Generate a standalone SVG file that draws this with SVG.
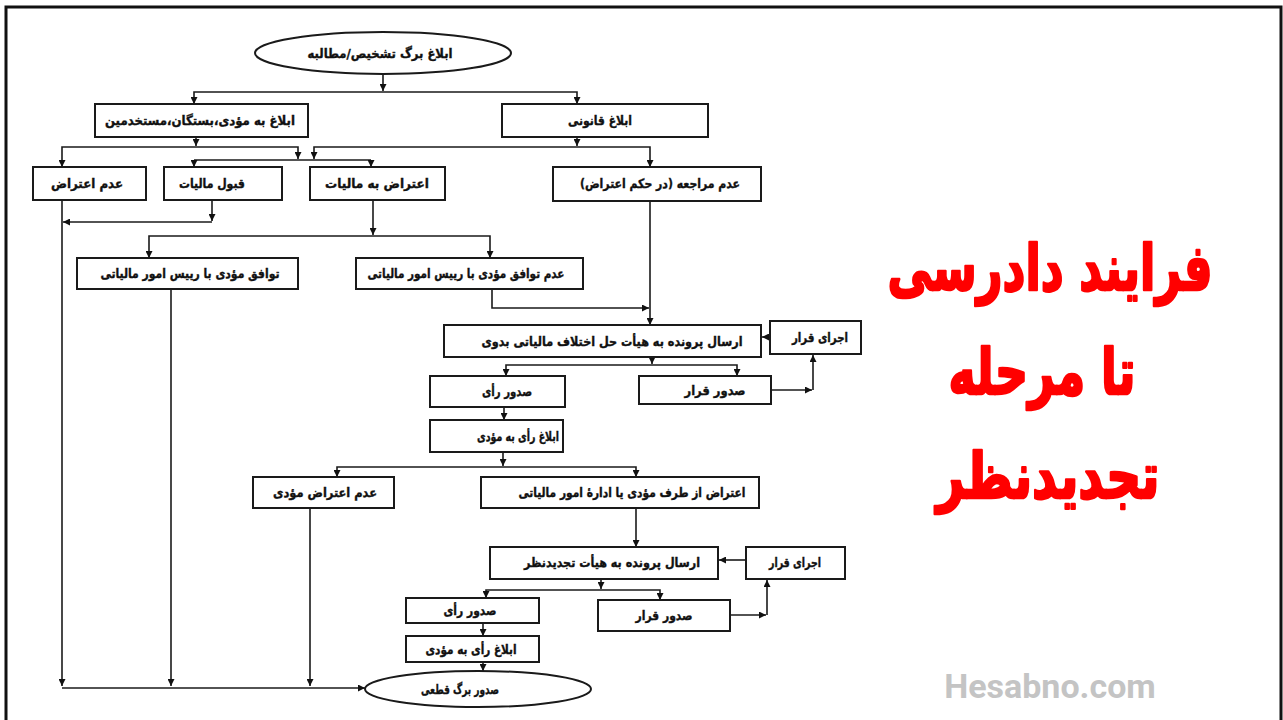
<svg xmlns="http://www.w3.org/2000/svg" width="1283" height="720" viewBox="0 0 1283 720">
<defs>
<marker id="ah" viewBox="0 0 8 8" refX="8" refY="4" markerWidth="7" markerHeight="7" markerUnits="userSpaceOnUse" orient="auto">
<path d="M0,0 L8,4 L0,8 z" fill="#111"/>
</marker>
<style>
.box{fill:#fff;stroke:#1a1a1a;stroke-width:2}
.t{font-family:"DejaVu Sans",sans-serif;font-size:13px;font-weight:bold;fill:#111;stroke:#111;stroke-width:0.4;text-anchor:middle}
.c{fill:none;stroke:#1a1a1a;stroke-width:1.6}
.ca{fill:none;stroke:#1a1a1a;stroke-width:1.6;marker-end:url(#ah)}
.title{font-family:"DejaVu Sans",sans-serif;font-size:54px;font-weight:bold;fill:#ff0000;stroke:#ff0000;stroke-width:2.2;stroke-linejoin:round;text-anchor:middle}
.wm{font-family:Roboto,"Liberation Sans",sans-serif;font-size:34px;font-weight:bold;fill:#c4c4c4;text-anchor:middle}
</style>
</defs>
<rect width="1283" height="720" fill="#fff"/>
<path d="M6,720 V7 H1281 V720" fill="none" stroke="#111" stroke-width="3"/>

<g id="connectors">
<path class="ca" d="M383,74 V91"/>
<path class="ca" d="M383,92 H194 V104"/>
<path class="ca" d="M383,92 H577 V104"/>
<path class="ca" d="M196,137 V146"/>
<path class="ca" d="M196,147 H62 V167"/>
<path class="ca" d="M196,147 H298 V159"/>
<path class="ca" d="M577,137 V146"/>
<path class="ca" d="M577,147 H314 V159"/>
<path class="ca" d="M577,147 H650 V167"/>
<path class="c" d="M194,160 H371"/>
<path class="ca" d="M194,160 V167"/>
<path class="ca" d="M371,160 V167"/>
<path class="ca" d="M62,200 V686"/>
<path class="ca" d="M212,200 V221"/>
<path class="ca" d="M212,222 H63"/>
<path class="ca" d="M373,200 V235"/>
<path class="ca" d="M373,236 H149 V258"/>
<path class="ca" d="M373,236 H490 V258"/>
<path class="ca" d="M171,289 V686"/>
<path class="ca" d="M492,289 V308 H649"/>
<path class="ca" d="M650,201 V325"/>
<path class="ca" d="M770,337 H762"/>
<path class="ca" d="M652,357 V364"/>
<path class="ca" d="M652,365 H506 V376"/>
<path class="ca" d="M652,365 H737 V376"/>
<path class="ca" d="M771,390 H812"/>
<path class="ca" d="M813,390 V355"/>
<path class="ca" d="M504,407 V420"/>
<path class="ca" d="M503,452 V466"/>
<path class="ca" d="M503,467 H337 V477"/>
<path class="ca" d="M503,467 H636 V477"/>
<path class="ca" d="M310,508 V686"/>
<path class="ca" d="M636,508 V547"/>
<path class="ca" d="M746,560 H719"/>
<path class="ca" d="M601,579 V589"/>
<path class="ca" d="M601,590 H486 V598"/>
<path class="ca" d="M601,590 H660 V600"/>
<path class="ca" d="M730,615 H766"/>
<path class="ca" d="M767,615 V580"/>
<path class="ca" d="M483,623 V636"/>
<path class="ca" d="M483,662 V671"/>
<path class="ca" d="M62,688 H365"/>
</g>

<g id="n-start"><ellipse class="box" cx="383" cy="53" rx="128" ry="21"/><text class="t" x="380" y="58" textLength="145" lengthAdjust="spacingAndGlyphs">ابلاغ برگ تشخیص/مطالبه</text></g>
<g id="n-notify-person"><rect class="box" x="95" y="104" width="213" height="33"/><text class="t" x="200" y="125" textLength="190" lengthAdjust="spacingAndGlyphs">ابلاغ به مؤدی،بستگان،مستخدمین</text></g>
<g id="n-notify-legal"><rect class="box" x="502" y="104" width="206" height="33"/><text class="t" x="600" y="125" textLength="64" lengthAdjust="spacingAndGlyphs">ابلاغ قانونی</text></g>
<g id="n-no-objection"><rect class="box" x="33" y="167" width="113" height="33"/><text class="t" x="87" y="188" textLength="72" lengthAdjust="spacingAndGlyphs">عدم اعتراض</text></g>
<g id="n-accept"><rect class="box" x="164" y="167" width="118" height="33"/><text class="t" x="212" y="188" textLength="66" lengthAdjust="spacingAndGlyphs">قبول مالیات</text></g>
<g id="n-objection"><rect class="box" x="310" y="167" width="135" height="33"/><text class="t" x="377" y="188" textLength="104" lengthAdjust="spacingAndGlyphs">اعتراض به مالیات</text></g>
<g id="n-no-visit"><rect class="box" x="553" y="167" width="208" height="34"/><text class="t" x="660" y="188" textLength="160" lengthAdjust="spacingAndGlyphs">عدم مراجعه (در حکم اعتراض)</text></g>
<g id="n-agree"><rect class="box" x="77" y="258" width="221" height="31"/><text class="t" x="190" y="278" textLength="179" lengthAdjust="spacingAndGlyphs">توافق مؤدی با رییس امور مالیاتی</text></g>
<g id="n-disagree"><rect class="box" x="356" y="258" width="227" height="31"/><text class="t" x="466" y="278" textLength="197" lengthAdjust="spacingAndGlyphs">عدم توافق مؤدی با رییس امور مالیاتی</text></g>
<g id="n-send-first"><rect class="box" x="444" y="325" width="317" height="32"/><text class="t" x="612" y="346" textLength="261" lengthAdjust="spacingAndGlyphs">ارسال پرونده به هیأت حل اختلاف مالیاتی بدوی</text></g>
<g id="n-exec1"><rect class="box" x="770" y="321" width="91" height="33"/><text class="t" x="820" y="342" textLength="56" lengthAdjust="spacingAndGlyphs">اجرای قرار</text></g>
<g id="n-verdict1"><rect class="box" x="430" y="376" width="135" height="31"/><text class="t" x="507" y="396" textLength="50" lengthAdjust="spacingAndGlyphs">صدور رأی</text></g>
<g id="n-order1"><rect class="box" x="639" y="376" width="132" height="28"/><text class="t" x="715" y="395" textLength="61" lengthAdjust="spacingAndGlyphs">صدور قرار</text></g>
<g id="n-notify-verdict1"><rect class="box" x="430" y="420" width="133" height="32"/><text class="t" x="518" y="441" textLength="82" lengthAdjust="spacingAndGlyphs">ابلاغ رأی به مؤدی</text></g>
<g id="n-no-objection2"><rect class="box" x="253" y="477" width="141" height="31"/><text class="t" x="325" y="497" textLength="104" lengthAdjust="spacingAndGlyphs">عدم اعتراض مؤدی</text></g>
<g id="n-objection2"><rect class="box" x="481" y="477" width="278" height="31"/><text class="t" x="632" y="497" textLength="227" lengthAdjust="spacingAndGlyphs">اعتراض از طرف مؤدی یا ادارهٔ امور مالیاتی</text></g>
<g id="n-send-review"><rect class="box" x="490" y="547" width="228" height="32"/><text class="t" x="612" y="567" textLength="176" lengthAdjust="spacingAndGlyphs">ارسال پرونده به هیأت تجدیدنظر</text></g>
<g id="n-exec2"><rect class="box" x="746" y="547" width="99" height="32"/><text class="t" x="795" y="567" textLength="52" lengthAdjust="spacingAndGlyphs">اجرای قرار</text></g>
<g id="n-verdict2"><rect class="box" x="406" y="598" width="133" height="25"/><text class="t" x="470" y="615" textLength="53" lengthAdjust="spacingAndGlyphs">صدور رأی</text></g>
<g id="n-order2"><rect class="box" x="598" y="600" width="132" height="31"/><text class="t" x="664" y="620" textLength="57" lengthAdjust="spacingAndGlyphs">صدور قرار</text></g>
<g id="n-notify-verdict2"><rect class="box" x="406" y="636" width="133" height="26"/><text class="t" x="471" y="654" textLength="91" lengthAdjust="spacingAndGlyphs">ابلاغ رأی به مؤدی</text></g>
<g id="n-final"><ellipse class="box" cx="478" cy="689" rx="113" ry="18"/><text class="t" x="460" y="694" textLength="78" lengthAdjust="spacingAndGlyphs">صدور برگ قطعی</text></g>

<g id="title">
<text class="title" transform="translate(1050,290) scale(1,1.18)" x="0" y="0" textLength="325" lengthAdjust="spacingAndGlyphs">فرایند دادرسی</text>
<text class="title" transform="translate(1042,394) scale(1,1.18)" x="0" y="0" textLength="187" lengthAdjust="spacingAndGlyphs">تا مرحله</text>
<text class="title" transform="translate(1048,498) scale(1,1.18)" x="0" y="0" textLength="223" lengthAdjust="spacingAndGlyphs">تجدیدنظر</text>
</g>
<text class="wm" x="1050" y="698">Hesabno.com</text>
</svg>
